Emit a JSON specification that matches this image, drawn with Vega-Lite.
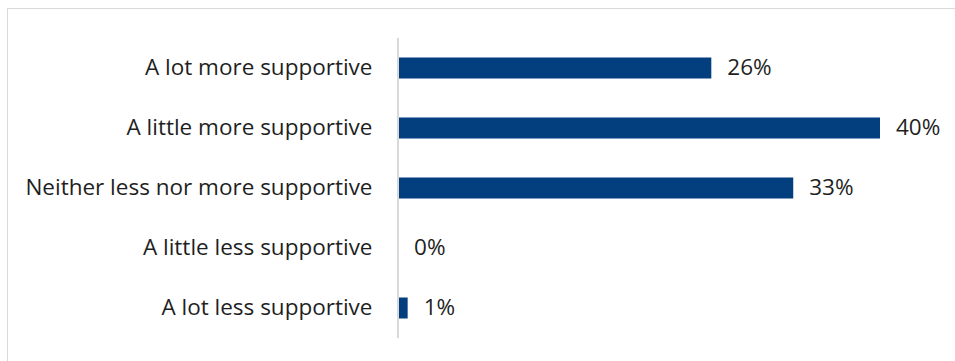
{
  "$schema": "https://vega.github.io/schema/vega-lite/v6.json",
  "width": 960,
  "height": 360,
  "autosize": {"type": "none"},
  "padding": {"left": 7, "top": 8, "right": 0, "bottom": 0},
  "background": "white",
  "config": {
    "view": {"stroke": "#d9d9d9", "strokeWidth": 1},
    "font": "Open Sans"
  },
  "data": {
    "values": [
      {"response": "A lot more supportive", "pct": 26, "label": "26%"},
      {"response": "A little more supportive", "pct": 40, "label": "40%"},
      {"response": "Neither less nor more supportive", "pct": 32.8, "label": "33%"},
      {"response": "A little less supportive", "pct": 0, "label": "0%"},
      {"response": "A lot less supportive", "pct": 0.8, "label": "1%"}
    ]
  },
  "encoding": {
    "y": {
      "field": "response",
      "type": "nominal",
      "sort": null,
      "scale": {"paddingInner": 0.65, "paddingOuter": 0.825},
      "axis": {
        "title": null,
        "orient": "left",
        "offset": -391,
        "domain": false,
        "ticks": false,
        "labelPadding": 26,
        "labelLimit": 0,
        "labelFontSize": 22.5,
        "labelColor": "#1f1f1f",
        "labelFont": "Open Sans"
      }
    }
  },
  "layer": [
    {
      "mark": {"type": "bar", "color": "#033f7e"},
      "encoding": {
        "x": {
          "field": "pct",
          "type": "quantitative",
          "scale": {"domain": [-32.45, 47.22], "nice": false, "zero": false},
          "axis": null
        },
        "x2": {"datum": 0}
      }
    },
    {
      "mark": {"type": "text", "align": "left", "baseline": "middle", "dx": 16, "fontSize": 22.5, "color": "#1f1f1f", "font": "Open Sans"},
      "encoding": {
        "x": {"field": "pct", "type": "quantitative"},
        "text": {"field": "label"}
      }
    },
    {
      "mark": {"type": "rule", "color": "#d9d9d9", "strokeWidth": 1.5, "yOffset": -30, "y2Offset": 30},
      "encoding": {
        "x": {"datum": 0},
        "y": {"datum": "A lot more supportive"},
        "y2": {"datum": "A lot less supportive"}
      }
    }
  ]
}
